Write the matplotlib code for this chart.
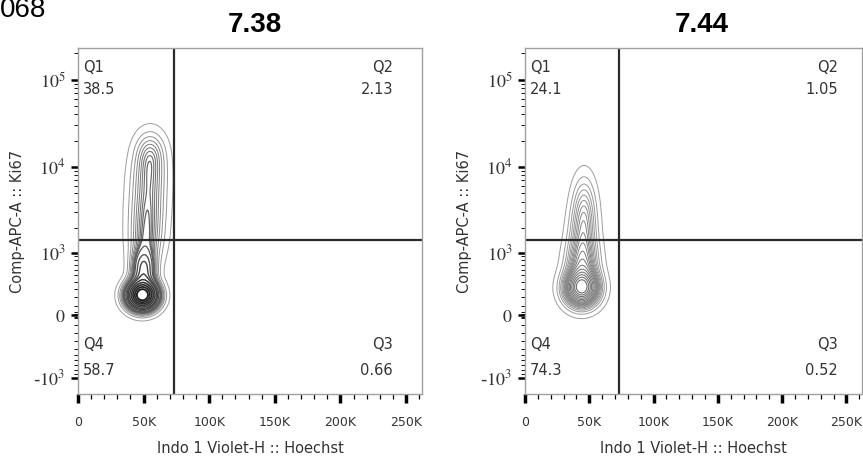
import numpy as np
import matplotlib.pyplot as plt

plt.rcParams['font.family'] = 'DejaVu Sans'
plt.rcParams['mathtext.fontset'] = 'stix'

# panel values
titles = ['7.38', '7.44']
q1_vals = ['38.5', '24.1']
q2_vals = ['2.13', '1.05']
q3_vals = ['0.66', '0.52']
q4_vals = ['58.7', '74.3']
gate_x = 73000
gate_y = 1410

# populations, in display units:
# (x in K, asinh(y/400), sd x, sd asinh, fraction of events)
left_pops = [
    (49, 0.52, 7.5, 0.24, 0.40),
    (50, 1.20, 6.0, 0.35, 0.14),
    (52, 2.00, 8.5, 0.45, 0.12),
    (53, 2.80, 9.0, 0.45, 0.11),
    (54, 3.60, 9.0, 0.45, 0.11),
    (55, 4.30, 8.0, 0.40, 0.08),
]
right_pops = [
    (44.0, 0.70, 8.5, 0.30, 0.45),
    (44.5, 1.30, 8.0, 0.45, 0.25),
    (45.0, 2.10, 7.0, 0.55, 0.18),
    (46.0, 2.90, 6.0, 0.55, 0.12),
]

x_ticks = [0, 50000, 100000, 150000, 200000, 250000]
x_ticklabels = ['0', '50K', '100K', '150K', '200K', '250K']
y_ticks = [-1000, 0, 1000, 10000, 100000]
y_ticklabels = ['-$10^3$', '$0$', '$10^3$', '$10^4$', '$10^5$']
y_minor = ([-s * 100 for s in range(1, 10)] + [-30, -15, 15, 30] +
           [s * 100 for s in range(1, 10)] + [s * 1000 for s in range(2, 10)] +
           [s * 10000 for s in range(2, 10)] + [200000])
enclosed = np.arange(0.97, 0.05, -0.05)

LW = 400.0  # asinh linear width


def density(pops, U, V):
    Z = np.zeros_like(U)
    for u0, v0, su, sv, w in pops:
        Z += w / (su * sv) * np.exp(-0.5 * (((U - u0) / su) ** 2 + ((V - v0) / sv) ** 2))
    return Z


def prob_levels(Z, fracs):
    z = np.sort(Z.ravel())[::-1]
    c = np.cumsum(z) / z.sum()
    lv = [z[np.searchsorted(c, f)] for f in fracs]
    return np.array(lv)


u = np.linspace(0, 262, 500)
v = np.linspace(-2.2, 7.2, 500)
U, V = np.meshgrid(u, v)
X = U * 1000
Y = LW * np.sinh(V)

fig = plt.figure(figsize=(8.63, 4.59), dpi=100)
rects = [[78 / 863, 65 / 459, 344 / 863, 346 / 459],
         [525 / 863, 65 / 459, 337 / 863, 346 / 459]]
pops_list = [left_pops, right_pops]
gray_ranges = [(0.62, 0.12), (0.62, 0.42)]
lw_ranges = [(0.7, 1.4), (0.7, 0.8)]
q_right = [0.916, 0.929]
ylab_x = [-0.154, -0.157]
title_x = [255 / 863, 702 / 863]

for i in range(2):
    ax = fig.add_axes(rects[i])
    ax.set_yscale('asinh', linear_width=LW)
    Z = density(pops_list[i], U, V)
    levels = prob_levels(Z, enclosed)
    n = len(levels)
    g0, g1 = gray_ranges[i]
    grays = [str(g0 + (g1 - g0) * k / (n - 1)) for k in range(n)]
    l0, l1 = lw_ranges[i]
    lws = [l0 + (l1 - l0) * (k / (n - 1)) ** 2 for k in range(n)]
    ax.contour(X, Y, Z, levels=levels, colors=grays, linewidths=lws)

    ax.axvline(gate_x, color='#2a2a2a', lw=1.6)
    ax.axhline(gate_y, color='#2a2a2a', lw=1.6)
    ax.set_xlim(0, 262144)
    ax.set_ylim(-1575, 230000)

    for sp in ax.spines.values():
        sp.set_color('#a0a0a0')
        sp.set_linewidth(1.0)

    ax.set_xticks(x_ticks, x_ticklabels)
    ax.set_xticks(np.arange(0, 262144, 10000), minor=True)
    ax.set_yticks(y_ticks, y_ticklabels)
    ax.set_yticks(y_minor, minor=True)
    ax.tick_params(axis='x', which='major', direction='out', length=6.5, width=2.5,
                   pad=9, labelsize=9, labelcolor='#333333')
    ax.tick_params(axis='x', which='minor', direction='out', length=3.6, width=0.9)
    ax.tick_params(axis='y', which='major', direction='out', length=5, width=1.8,
                   pad=4, labelsize=13, labelcolor='#333333')
    ax.tick_params(axis='y', which='minor', direction='out', length=2.9, width=0.65)

    ax.set_xlabel('Indo 1 Violet-H :: Hoechst', fontsize=10.5, color='#333333')
    ax.xaxis.set_label_coords(0.5, -0.136)
    ax.set_ylabel('Comp-APC-A :: Ki67', fontsize=10.5, color='#333333')
    ax.yaxis.set_label_coords(ylab_x[i], 0.5)

    tkw = dict(transform=ax.transAxes, fontsize=10.5, color='#333333', va='center')
    ax.text(0.015, 0.945, 'Q1', ha='left', **tkw)
    ax.text(0.015, 0.881, q1_vals[i], ha='left', **tkw)
    ax.text(q_right[i], 0.945, 'Q2', ha='right', **tkw)
    ax.text(q_right[i], 0.881, q2_vals[i], ha='right', **tkw)
    ax.text(0.015, 0.142, 'Q4', ha='left', **tkw)
    ax.text(0.015, 0.069, q4_vals[i], ha='left', **tkw)
    ax.text(q_right[i], 0.142, 'Q3', ha='right', **tkw)
    ax.text(q_right[i], 0.069, q3_vals[i], ha='right', **tkw)

    fig.text(title_x[i], 1 - 25 / 459, titles[i], ha='center', va='center',
             fontsize=20, fontweight='bold', family='Liberation Sans')

fig.text(46 / 863, 1 - 17 / 459, '068', ha='right', va='baseline',
         fontsize=20, family='Liberation Sans')

fig.savefig('out.png', dpi=100)
